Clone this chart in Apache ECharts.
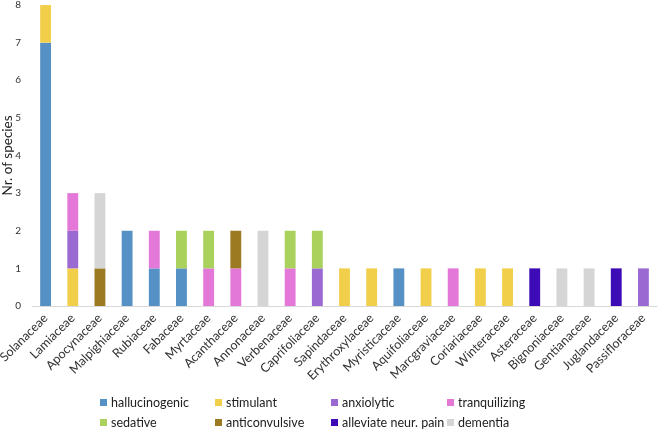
<!DOCTYPE html>
<html>
<head>
<meta charset="utf-8">
<script src="https://cdn.jsdelivr.net/npm/echarts@6/dist/echarts.min.js"></script>
<style>
  html, body { margin: 0; padding: 0; background: #fff; }
  #chart { width: 658px; height: 431px; }
</style>
</head>
<body>
<div id="chart"></div>
<script>
var families = ["Solanaceae", "Lamiaceae", "Apocynaceae", "Malpighiaceae", "Rubiaceae",
  "Fabaceae", "Myrtaceae", "Acanthaceae", "Annonaceae", "Verbenaceae", "Caprifoliaceae",
  "Sapindaceae", "Erythroxylaceae", "Myristicaceae", "Aquifoliaceae", "Marcgraviaceae",
  "Coriariaceae", "Winteraceae", "Asteraceae", "Bignoniaceae", "Gentianaceae",
  "Juglandaceae", "Passifloraceae"];

var hallucinogenic = [7, 0, 0, 2, 1, 1, 0, 0, 0, 0, 0, 0, 0, 1, 0, 0, 0, 0, 0, 0, 0, 0, 0];
var stimulant      = [1, 1, 0, 0, 0, 0, 0, 0, 0, 0, 0, 1, 1, 0, 1, 0, 1, 1, 0, 0, 0, 0, 0];
var anxiolytic     = [0, 1, 0, 0, 0, 0, 0, 0, 0, 0, 1, 0, 0, 0, 0, 0, 0, 0, 0, 0, 0, 0, 1];
var tranquilizing  = [0, 1, 0, 0, 1, 0, 1, 1, 0, 1, 0, 0, 0, 0, 0, 1, 0, 0, 0, 0, 0, 0, 0];
var sedative       = [0, 0, 0, 0, 0, 1, 1, 0, 0, 1, 1, 0, 0, 0, 0, 0, 0, 0, 0, 0, 0, 0, 0];
var anticonvulsive = [0, 0, 1, 0, 0, 0, 0, 1, 0, 0, 0, 0, 0, 0, 0, 0, 0, 0, 0, 0, 0, 0, 0];
var neurPain       = [0, 0, 0, 0, 0, 0, 0, 0, 0, 0, 0, 0, 0, 0, 0, 0, 0, 0, 1, 0, 0, 1, 0];
var dementia       = [0, 0, 2, 0, 0, 0, 0, 0, 2, 0, 0, 0, 0, 0, 0, 0, 0, 0, 0, 1, 1, 0, 0];

var seriesNames = ["hallucinogenic", "stimulant", "anxiolytic", "tranquilizing",
  "sedative", "anticonvulsive", "alleviate neur. pain", "dementia"];
var seriesData = [hallucinogenic, stimulant, anxiolytic, tranquilizing,
  sedative, anticonvulsive, neurPain, dementia];
var colors = ["#5591c4", "#f2cf4b", "#9a69d1", "#e378d9", "#a9d15c", "#9b7a21", "#3d0cb6", "#d5d5d5"];

var font = "Lato, 'Open Sans', sans-serif";

// one legend per column so the two rows line up like the original
function legendColumn(names, left) {
  return {
    orient: "vertical",
    left: left,
    top: 396,
    icon: "rect",
    itemWidth: 7,
    itemHeight: 7,
    itemGap: 7,
    padding: 0,
    textStyle: { fontFamily: font, fontSize: 12.5, color: "#222", padding: [0, 0, 0, -1] },
    data: names
  };
}

var chart = echarts.init(document.getElementById("chart"), null, { renderer: "canvas" });
chart.setOption({
  animation: false,
  color: colors,
  textStyle: { fontFamily: font },
  legend: [
    legendColumn([seriesNames[0], seriesNames[4]], 100),
    legendColumn([seriesNames[1], seriesNames[5]], 215),
    legendColumn([seriesNames[2], seriesNames[6]], 331),
    legendColumn([seriesNames[3], seriesNames[7]], 447)
  ],
  grid: { left: 32, right: 1, top: 5, bottom: 125, containLabel: false, outerBoundsMode: "none" },
  xAxis: {
    type: "category",
    data: families,
    axisLine: { lineStyle: { color: "#d9d9d9", width: 1 } },
    axisTick: { show: false },
    axisLabel: { rotate: 45, interval: 0, margin: 10, fontSize: 12.5, color: "#333", fontFamily: font }
  },
  yAxis: {
    type: "value",
    min: 0,
    max: 8,
    interval: 1,
    name: "Nr. of species",
    nameLocation: "middle",
    nameGap: 17,
    nameMoveOverlap: false,
    nameTextStyle: { fontSize: 13.5, color: "#222", fontFamily: font },
    axisLine: { show: false },
    axisTick: { show: false },
    splitLine: { show: false },
    axisLabel: { fontSize: 10, color: "#333", margin: 11 }
  },
  series: seriesNames.map(function (n, i) {
    return {
      name: n,
      type: "bar",
      stack: "total",
      barWidth: "40%",
      data: seriesData[i].map(function (v) { return v === 0 ? null : v; })
    };
  })
});
</script>
</body>
</html>
